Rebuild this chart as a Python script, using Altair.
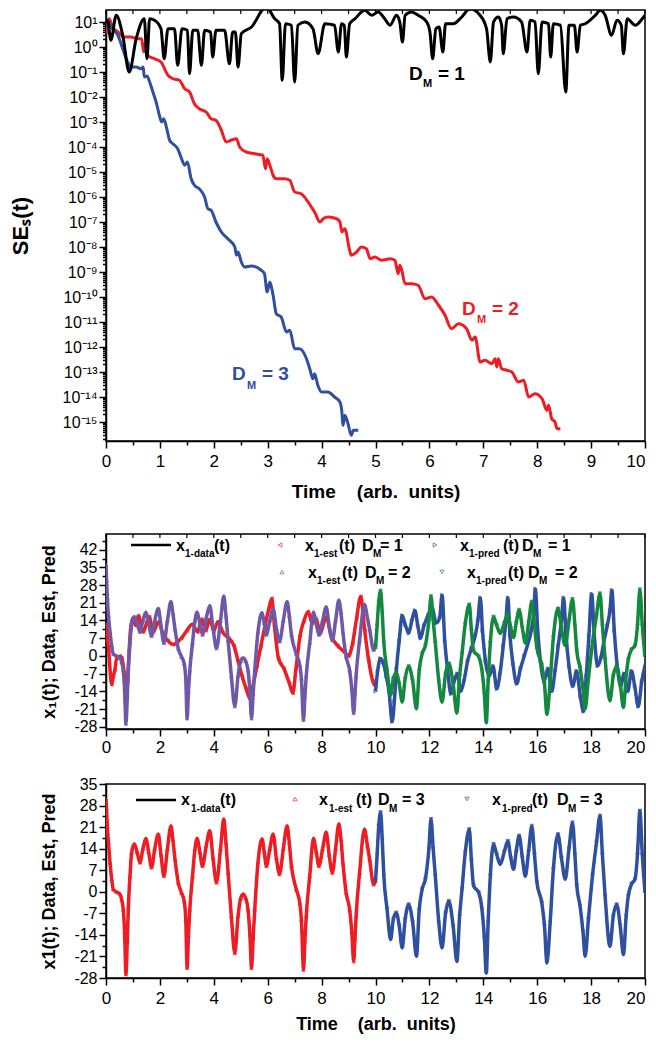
import altair as alt
import pandas as pd

FONT = "Liberation Sans"
BLACK = "#000000"
RED = "#EE1D23"
BLUE = "#2F4F9F"
PURPLE = "#6E58A8"
GREEN = "#13893F"

# ---------------- top panel: SE_s(t), (t, log10 SE) ----------------
se_dm1 = [(0.0, 1.0), (0.03, 1.07), (0.09, 0.27), (0.19, 1.27), (0.31, 0.47), (0.43, -1.0), (0.56, 0.33),
          (0.71, 1.13), (0.76, -0.47), (0.81, 1.13), (0.90, 1.07), (1.02, 0.73), (1.08, -0.47), (1.15, 0.73),
          (1.27, 0.73), (1.33, -0.73), (1.41, 0.73), (1.51, 0.67), (1.55, -1.07), (1.61, 0.67), (1.70, 0.67),
          (1.77, -0.73), (1.83, 0.67), (1.94, 0.6), (1.98, -0.4), (2.04, 0.67), (2.20, 0.67), (2.29, -0.67),
          (2.35, 0.6), (2.40, 0.6), (2.45, -0.8), (2.51, 0.53), (2.70, 0.8), (2.97, 1.6), (3.13, 1.13),
          (3.22, 0.93), (3.27, -1.33), (3.33, 0.93), (3.44, 0.87), (3.50, -1.4), (3.56, 0.87), (3.69, 1.0),
          (3.84, 0.73), (3.935, -0.27), (4.06, 0.93), (4.24, 0.87), (4.31, -0.2), (4.37, 0.93), (4.42, 0.87),
          (4.46, -0.4), (4.52, 0.93), (4.62, 1.13), (4.80, 1.47), (4.93, 1.27), (5.05, 1.4), (5.17, 1.13),
          (5.27, 0.87), (5.39, 1.27), (5.45, 1.0), (5.50, 0.2), (5.55, 1.27), (5.67, 1.4), (5.79, 1.27),
          (5.95, 1.0), (6.01, 0.6), (6.06, -0.47), (6.12, 0.73), (6.18, 0.8), (6.25, -0.2), (6.30, 0.93),
          (6.44, 0.93), (6.60, 1.2), (6.75, 1.53), (6.94, 1.27), (7.06, 0.73), (7.13, -0.6), (7.19, 1.0),
          (7.28, 1.2), (7.34, 0.87), (7.37, -0.27), (7.44, 1.13), (7.56, 1.2), (7.71, 1.0), (7.81, -0.2),
          (7.87, 1.07), (7.96, 1.0), (8.02, -1.07), (8.09, 1.0), (8.21, 0.93), (8.25, -0.4), (8.30, 0.93),
          (8.43, 0.87), (8.53, -1.8), (8.59, 0.87), (8.69, 0.87), (8.74, -0.2), (8.80, 0.87), (8.89, 0.93),
          (9.08, 1.27), (9.17, 1.47), (9.26, 1.27), (9.38, 0.47), (9.48, 1.07), (9.56, 0.87), (9.60, -0.27),
          (9.67, 1.13), (9.82, 0.87), (9.95, 1.13), (10.0, 1.27)]

se_dm2 = [(0.02, 0.53), (0.06, 1.13), (0.12, 0.8), (0.22, 0.6), (0.34, 0.4), (0.46, 0.4), (0.59, 0.33),
          (0.66, 0.33), (0.70, -0.2), (0.73, 0.13), (0.77, -0.33), (0.90, -0.47), (1.02, -0.6), (1.15, -1.13),
          (1.24, -1.27), (1.36, -1.33), (1.46, -1.67), (1.55, -1.8), (1.64, -2.27), (1.73, -2.47), (1.86, -2.6),
          (1.95, -2.87), (2.04, -2.93), (2.14, -3.33), (2.23, -3.8), (2.32, -3.73), (2.42, -3.67), (2.48, -4.0),
          (2.60, -4.2), (2.76, -4.27), (2.91, -4.33), (2.96, -4.87), (2.99, -4.47), (3.04, -4.73), (3.10, -5.13),
          (3.16, -5.27), (3.31, -5.27), (3.41, -5.33), (3.50, -5.8), (3.62, -5.87), (3.75, -6.2), (3.81, -6.4),
          (3.87, -6.6), (3.97, -7.0), (4.03, -6.87), (4.12, -6.8), (4.28, -6.87), (4.34, -7.0), (4.38, -7.4),
          (4.43, -7.27), (4.52, -8.13), (4.55, -8.33), (4.65, -8.2), (4.74, -8.0), (4.83, -8.07), (4.90, -8.47),
          (4.99, -8.4), (5.11, -8.53), (5.27, -8.47), (5.36, -8.53), (5.42, -9.07), (5.45, -8.73), (5.48, -8.87),
          (5.55, -9.47), (5.67, -9.47), (5.79, -9.53), (5.92, -10.07), (6.04, -10.0), (6.17, -10.33),
          (6.29, -10.73), (6.41, -11.27), (6.54, -11.07), (6.69, -11.27), (6.79, -11.73), (6.85, -11.6),
          (6.94, -12.6), (7.03, -12.53), (7.16, -12.67), (7.22, -12.47), (7.25, -12.8), (7.28, -12.47),
          (7.34, -12.87), (7.44, -12.93), (7.53, -13.0), (7.65, -13.4), (7.75, -13.33), (7.84, -14.0),
          (7.96, -13.87), (8.09, -14.07), (8.18, -14.53), (8.21, -14.33), (8.27, -14.87), (8.33, -15.0),
          (8.37, -15.27), (8.43, -15.27)]

se_dm3 = [(0.0, 0.87), (0.06, 0.93), (0.12, 0.73), (0.22, 0.47), (0.31, -0.07), (0.40, -0.6), (0.46, -0.8),
          (0.56, -0.8), (0.65, -0.87), (0.69, -0.8), (0.71, -1.2), (0.76, -1.16), (0.81, -1.4), (0.87, -1.8),
          (0.93, -2.2), (0.99, -2.73), (1.03, -3.0), (1.07, -2.87), (1.12, -3.2), (1.18, -3.73), (1.24, -3.87),
          (1.33, -4.07), (1.39, -4.4), (1.46, -4.73), (1.51, -4.6), (1.58, -5.27), (1.64, -5.53), (1.73, -5.67),
          (1.83, -6.0), (1.89, -6.47), (1.95, -6.53), (2.04, -7.0), (2.14, -7.4), (2.26, -7.67), (2.39, -8.0),
          (2.42, -8.33), (2.45, -8.2), (2.51, -8.6), (2.57, -8.8), (2.70, -8.76), (2.88, -8.93), (2.94, -9.07),
          (2.99, -9.8), (3.04, -9.4), (3.10, -9.93), (3.16, -10.67), (3.25, -10.8), (3.35, -11.4),
          (3.41, -11.33), (3.50, -12.07), (3.59, -12.07), (3.72, -12.47), (3.78, -12.87), (3.84, -13.27),
          (3.87, -13.07), (3.93, -13.53), (4.00, -13.8), (4.12, -13.8), (4.24, -14.0), (4.34, -14.2),
          (4.37, -14.47), (4.40, -15.13), (4.43, -14.73), (4.49, -15.07), (4.55, -15.53), (4.59, -15.33),
          (4.68, -15.33)]

top_ytick_labels = ["10⁻¹⁵", "10⁻¹⁴", "10⁻¹³", "10⁻¹²", "10⁻¹¹", "10⁻¹⁰", "10⁻⁹", "10⁻⁸", "10⁻⁷",
                    "10⁻⁶", "10⁻⁵", "10⁻⁴", "10⁻³", "10⁻²", "10⁻¹", "10⁰", "10¹"]
top_xtick_labels = ["0", "1", "2", "3", "4", "5", "6", "7", "8", "9", "10"]

# ---------------- x1 time series (t, x1) ----------------
x1_data = [(0.0, 21.0), (0.05, 18.5), (0.09, 16.0), (0.15, 9.5), (0.21, 4.1), (0.27, 0.8), (0.40, -0.1),
           (0.52, -0.8), (0.58, -2.5), (0.64, -5.7), (0.69, -13.0), (0.74, -26.8), (0.79, -16.0), (0.83, -5.0),
           (0.89, 5.1), (0.95, 12.7), (1.05, 15.5), (1.15, 13.0), (1.26, 9.5), (1.37, 14.0), (1.48, 17.3),
           (1.58, 13.0), (1.69, 7.9), (1.81, 14.0), (1.94, 18.7), (2.04, 12.0), (2.15, 5.1), (2.28, 14.0),
           (2.41, 21.4), (2.48, 17.0), (2.56, 10.6), (2.68, 3.0), (2.80, -0.3), (2.90, -3.0), (2.96, -9.0),
           (3.01, -24.7), (3.06, -14.0), (3.11, -5.7), (3.21, 5.1), (3.30, 13.8), (3.38, 17.3), (3.48, 13.0),
           (3.58, 8.4), (3.72, 15.0), (3.85, 19.8), (3.97, 11.0), (4.10, 3.0), (4.25, 14.0), (4.37, 23.6),
           (4.45, 16.0), (4.53, 6.2), (4.65, -7.9), (4.78, -19.9), (4.90, -7.9), (5.00, -2.0), (5.09, -0.8),
           (5.18, -2.0), (5.27, -5.7), (5.34, -14.0), (5.40, -24.7), (5.46, -15.0), (5.52, -5.7), (5.64, 9.5),
           (5.79, 17.1), (5.87, 13.0), (5.95, 8.4), (6.08, 14.0), (6.20, 18.7), (6.32, 11.0), (6.44, 5.7),
           (6.58, 14.0), (6.72, 21.4), (6.80, 16.0), (6.88, 8.4), (7.06, 0.8), (7.19, -3.6), (7.25, -9.0),
           (7.33, -25.3), (7.38, -16.0), (7.43, -7.9), (7.56, 5.1), (7.70, 17.3), (7.80, 13.0), (7.90, 8.4),
           (8.04, 14.0), (8.17, 19.3), (8.28, 12.0), (8.40, 6.2), (8.52, 14.0), (8.64, 22.0), (8.72, 17.0),
           (8.79, 9.5), (8.91, -0.3), (9.04, -5.7), (9.12, -13.0), (9.19, -22.6), (9.24, -15.0), (9.28, -7.9),
           (9.41, 6.2), (9.59, 20.3), (9.70, 15.0), (9.78, 10.6), (9.93, 2.4), (10.0, 3.5), (10.06, 12.0),
           (10.12, 21.4), (10.19, 25.8), (10.25, 17.0), (10.31, 5.1), (10.43, -5.7), (10.56, -15.5),
           (10.66, -9.0), (10.77, -6.8), (10.88, -11.0), (10.99, -18.2), (11.10, -9.0), (11.23, -4.1),
           (11.38, -10.0), (11.52, -20.9), (11.62, -6.0), (11.73, 0.8), (11.85, 4.1), (11.98, 13.8),
           (12.06, 23.6), (12.14, 14.0), (12.22, 5.1), (12.35, -10.1), (12.47, -18.2), (12.60, -7.0),
           (12.72, -3.0), (12.88, -11.0), (13.02, -22.6), (13.12, -8.0), (13.21, 0.8), (13.33, 12.7),
           (13.48, 20.3), (13.56, 10.0), (13.64, 1.9), (13.83, -0.3), (13.95, -5.7), (14.04, -15.0),
           (14.11, -26.4), (14.18, -10.0), (14.26, 5.1), (14.38, 15.5), (14.50, 12.0), (14.63, 8.9),
           (14.78, 13.0), (14.91, 16.5), (15.02, 11.0), (15.12, 7.3), (15.22, 13.0), (15.33, 18.2),
           (15.45, 11.0), (15.56, 5.1), (15.68, 13.0), (15.80, 21.4), (15.90, 12.0), (15.99, 3.0),
           (16.17, -3.6), (16.27, -11.0), (16.36, -23.1), (16.48, -10.1), (16.60, 7.3), (16.77, 18.7),
           (16.90, 11.0), (17.04, 4.1), (17.18, 14.0), (17.31, 22.5), (17.40, 12.0), (17.47, 1.9),
           (17.59, -4.6), (17.70, -13.0), (17.78, -20.9), (17.90, -9.0), (18.05, 5.1), (18.20, 16.0),
           (18.33, 24.7), (18.42, 12.0), (18.52, -1.4), (18.70, -17.7), (18.82, -8.0), (18.95, -4.1),
           (19.08, -11.0), (19.20, -20.4), (19.30, -8.0), (19.38, -1.4), (19.50, 2.5), (19.63, 4.1),
           (19.72, 12.0), (19.81, 26.3), (19.90, 12.0), (20.0, -0.3)]

# estimation start transients (before they lock onto the data)
est_dm2_start = [(0.0, 36.0), (0.02, 30.0), (0.05, 23.0)]
est_dm3_start = [(0.0, 30.0), (0.02, 27.0), (0.05, 21.0)]

est_dm1 = [(0.0, 13.0), (0.1, 2.0), (0.21, -11.3), (0.27, -8.0), (0.33, -5.4), (0.40, -0.8), (0.52, -0.1),
           (0.58, -0.8), (0.67, -6.7), (0.74, -20.0), (0.80, -10.0), (0.86, 2.0), (0.91, 10.4), (1.0, 15.0),
           (1.1, 12.0), (1.2, 15.9), (1.38, 9.5), (1.6, 15.5), (1.75, 9.5), (1.95, 13.5), (2.1, 9.0),
           (2.3, 6.0), (2.5, 4.5), (2.65, 5.5), (2.8, 7.0), (3.0, 10.0), (3.2, 12.5), (3.4, 9.5), (3.55, 14.5),
           (3.7, 10.0), (3.85, 14.5), (4.0, 10.0), (4.15, 13.5), (4.35, 9.0), (4.55, 7.0), (4.75, 4.0),
           (4.9, -2.0), (5.05, -8.0), (5.2, -13.0), (5.35, -17.0), (5.45, -12.0), (5.6, -4.0), (5.75, 4.0),
           (5.9, 12.0), (6.05, 19.0), (6.15, 22.7), (6.25, 12.0), (6.4, -1.0), (6.6, -5.0), (6.8, -10.7),
           (6.93, -14.7), (7.05, -5.0), (7.2, 8.0), (7.35, 14.0), (7.5, 17.5), (7.65, 12.9), (7.8, 14.6),
           (7.95, 9.0), (8.17, 15.4), (8.35, 8.0), (8.6, 4.0), (8.8, 2.0), (9.0, 0.0), (9.15, 5.0),
           (9.3, 15.0), (9.45, 23.5), (9.6, 10.0), (9.75, -2.0), (9.9, -10.0), (10.0, -12.0)]

pred_dm1 = [(10.0, -14.0), (10.08, -6.0), (10.18, -1.0), (10.28, -2.5), (10.4, -8.0), (10.5, -14.0),
            (10.62, -26.0), (10.7, -18.0), (10.78, -5.0), (10.88, 6.0), (10.99, 16.0), (11.1, 12.5),
            (11.23, 9.0), (11.35, 14.0), (11.46, 18.0), (11.57, 12.0), (11.67, 7.0), (11.8, 12.0),
            (11.95, 16.0), (12.1, 19.0), (12.25, 13.0), (12.38, 15.0), (12.47, 24.0), (12.57, 6.0),
            (12.68, -6.0), (12.8, -15.0), (12.92, -10.0), (13.04, -7.0), (13.16, -14.0), (13.28, -10.0),
            (13.42, -2.0), (13.56, 3.0), (13.7, 8.0), (13.8, 14.0), (13.89, 23.0), (13.97, 10.0),
            (14.08, -2.0), (14.22, -8.0), (14.36, -4.0), (14.5, -13.0), (14.62, -7.0), (14.74, 4.0),
            (14.84, 14.0), (14.91, 23.0), (14.99, 8.0), (15.1, -3.0), (15.24, -11.0), (15.38, -5.0),
            (15.52, 0.0), (15.66, 5.0), (15.78, 10.0), (15.87, 17.0), (15.93, 26.5), (16.02, 10.0),
            (16.12, -2.0), (16.26, -10.0), (16.4, -5.0), (16.54, -14.0), (16.66, -6.0), (16.78, 4.0),
            (16.9, 14.0), (16.98, 23.0), (17.07, 8.0), (17.18, -4.0), (17.32, -12.0), (17.46, -6.0),
            (17.6, -16.0), (17.72, -22.0), (17.82, -8.0), (17.92, 8.0), (18.02, 24.5), (18.12, 8.0),
            (18.24, -4.0), (18.36, -1.0), (18.48, 6.0), (18.6, 12.0), (18.7, 18.0), (18.77, 26.0),
            (18.86, 10.0), (18.97, -4.0), (19.1, -12.0), (19.22, -7.0), (19.36, -14.0), (19.5, -6.0),
            (19.62, -12.0), (19.75, -20.0), (19.88, -10.0), (20.0, -4.0)]

x_tick_labels_20 = ["0", "2", "4", "6", "8", "10", "12", "14", "16", "18", "20"]
mid_ytick_labels = ["-28", "-21", "-14", "-7", "0", "7", "14", "21", "28", "35", "42"]
bot_ytick_labels = ["-28", "-21", "-14", "-7", "0", "7", "14", "21", "28", "35"]


# ---------------- helpers ----------------
def frame(pairs, ycol="v"):
    return pd.DataFrame({"t": [p[0] for p in pairs], ycol: [p[1] for p in pairs]})


def js_list(items):
    return "[" + ",".join("'" + s + "'" for s in items) + "]"


anno_df = pd.DataFrame({"k": [0]})


def txt(text, x, y, size, color=BLACK):
    return alt.Chart(anno_df).mark_text(
        text=text, align="left", baseline="alphabetic", font=FONT, fontSize=size,
        fontWeight="bold", color=color
    ).encode(x=alt.value(x), y=alt.value(y))


def sym(shape, color, x, y):
    return alt.Chart(anno_df).mark_point(
        shape=shape, filled=False, color=color, size=18, strokeWidth=1
    ).encode(x=alt.value(x), y=alt.value(y))


W = 539
AX = dict(grid=False, domainColor=BLACK, tickColor=BLACK, labelColor=BLACK, titleColor=BLACK,
          labelFont=FONT, titleFont=FONT, domainWidth=1.5, tickWidth=1.5, labelOverlap=False)

# ---------------- top panel ----------------
top_lo, top_hi = 10 ** -15.76, 10 ** 1.48
ytop_vals = []
for e in range(-16, 2):
    for k in range(1, 10):
        v = float(f"{k}e{e}")
        if top_lo <= v <= 10.0:
            ytop_vals.append(v)
is_dec = "abs(datum.value / pow(10, round(log(datum.value) / LN10)) - 1) < 1e-6"
Y_top = alt.Y("se:Q", scale=alt.Scale(type="log", domain=[top_lo, top_hi], nice=False),
              axis=alt.Axis(values=ytop_vals,
                            labelExpr=f"({is_dec}) ? {js_list(top_ytick_labels)}[round(log(datum.value) / LN10) + 15] : ''",
                            tickSize={"condition": {"test": is_dec, "value": 7}, "value": 3.5},
                            labelFontSize=16, labelPadding=2, title="SEₛ(t)", titleFontSize=22,
                            titleFontWeight="bold", titlePadding=30, **AX))
xtop_vals = [i * 0.5 for i in range(21)]
X_top = alt.X("t:Q", scale=alt.Scale(domain=[0, 10], nice=False, zero=False),
              axis=alt.Axis(values=xtop_vals,
                            labelExpr=f"datum.value % 1 == 0 ? {js_list(top_xtick_labels)}[datum.value] : ''",
                            labelAlign={"condition": {"test": "datum.value == 10", "value": "right"},
                                        "value": "center"},
                            tickSize={"condition": {"test": "datum.value % 1 == 0", "value": 7}, "value": 4},
                            labelFontSize=17, labelPadding=5, labelFlush=False,
                            title="Time\u00a0\u00a0\u00a0\u00a0(arb.\u00a0\u00a0units)", titleFontSize=19,
                            titleFontWeight="bold", titlePadding=13, **AX))

df1 = frame(se_dm1, "lg")
df2 = frame(se_dm2, "lg")
df3 = frame(se_dm3, "lg")
for d in (df1, df2, df3):
    d["se"] = 10.0 ** d["lg"]


def se_line(df, color):
    return alt.Chart(df).mark_line(color=color, strokeWidth=3, clip=True, interpolate="monotone").encode(
        x=X_top, y=Y_top)


def top_ticks(vals, X):
    # mirrored tick marks along the upper frame, placed through the x scale
    return alt.Chart(pd.DataFrame({"t": vals})).mark_rule(color=BLACK, strokeWidth=1.2).encode(
        x=X, y=alt.value(0), y2=alt.value(4))


top = alt.layer(
    se_line(df2, RED), se_line(df3, BLUE), se_line(df1, BLACK), top_ticks(xtop_vals, X_top),
    txt("D", 303, 70, 19), txt("M", 317, 77, 11), txt("= 1", 332, 70, 19),
    txt("D", 356, 305, 19, RED), txt("M", 371, 313, 11, RED), txt("= 2", 386, 305, 19, RED),
    txt("D", 126, 370, 19, BLUE), txt("M", 141, 379, 11, BLUE), txt("= 3", 156, 370, 19, BLUE),
    txt(" ", 0, 502, 2),  # spacer: keeps the gap below the time-axis title
).properties(width=W, height=431)

# ---------------- middle / bottom panels ----------------
x20_vals = list(range(21))


def x_axis20(show_title, label_pad, title_pad):
    kw = dict(values=x20_vals,
              labelExpr=f"datum.value % 2 == 0 ? {js_list(x_tick_labels_20)}[datum.value / 2] : ''",
              labelAlign={"condition": {"test": "datum.value == 20", "value": "right"}, "value": "center"},
              tickSize={"condition": {"test": "datum.value % 2 == 0", "value": 7}, "value": 4},
              labelFontSize=17, labelPadding=label_pad, labelFlush=False, **AX)
    if show_title:
        kw.update(title="Time\u00a0\u00a0\u00a0\u00a0(arb.\u00a0\u00a0units)", titleFontSize=18,
                  titleFontWeight="bold", titlePadding=title_pad)
    else:
        kw.update(title=None)
    return alt.X("t:Q", scale=alt.Scale(domain=[0, 20], nice=False, zero=False), axis=alt.Axis(**kw))


def y_axis(lo, hi, tick_max, labels, title):
    vals = []
    v = -28.0
    while v <= tick_max + 1e-9:
        vals.append(v)
        v += 3.5
    return alt.Y("v:Q", scale=alt.Scale(domain=[lo, hi], nice=False, zero=False),
                 axis=alt.Axis(values=vals,
                               labelExpr=f"datum.value % 7 == 0 ? {js_list(labels)}[(datum.value + 28) / 7] : ''",
                               tickSize={"condition": {"test": "datum.value % 7 == 0", "value": 7}, "value": 4},
                               labelFontSize=16, labelPadding=2, title=title, titleFontSize=18,
                               titleFontWeight="bold", titlePadding=15, **AX))


def series(df, color, shape, X, Y, width=3.5):
    ln = alt.Chart(df).mark_line(color=color, strokeWidth=width, clip=True, interpolate="monotone").encode(
        x=X, y=Y)
    pt = alt.Chart(df).mark_point(shape=shape, filled=False, color=color, size=14, strokeWidth=0.9,
                                  clip=True).encode(x=X, y=Y)
    return [ln, pt]


data_df = frame(x1_data)
first_half = [p for p in x1_data if 0.09 <= p[0] <= 10.0]
second_half = [p for p in x1_data if p[0] >= 10.0]

# middle
X_mid = x_axis20(False, 3, 0)
Y_mid = y_axis(-28.9, 48.2, 45.5, mid_ytick_labels, "x₁(t);  Data, Est, Pred")
mid_layers = [alt.Chart(data_df).mark_line(color=BLACK, strokeWidth=2, clip=True,
                                           interpolate="monotone").encode(x=X_mid, y=Y_mid)]
mid_layers += series(frame(est_dm1), RED, "triangle-left", X_mid, Y_mid)
mid_layers += series(frame(pred_dm1), BLUE, "triangle-right", X_mid, Y_mid)
mid_layers += series(frame(est_dm2_start + first_half), PURPLE, "triangle-up", X_mid, Y_mid)
mid_layers += series(frame(second_half), GREEN, "triangle-down", X_mid, Y_mid)
mid_layers += [
    top_ticks(x20_vals, X_mid),
    alt.Chart(anno_df).mark_rule(color=BLACK, strokeWidth=2.5).encode(
        x=alt.value(25), x2=alt.value(65), y=alt.value(11)),
    txt("x", 70, 17, 16), txt("1-data", 79, 23, 10), txt("(t)", 108, 17, 16),
    sym("triangle-left", RED, 174, 11),
    txt("x", 199, 17, 16), txt("1-est", 208, 23, 10), txt("(t)", 233, 17, 16),
    txt("D", 256, 17, 16), txt("M", 267, 23, 10), txt("= 1", 274, 17, 16),
    sym("triangle-right", BLUE, 329, 11),
    txt("x", 354, 17, 16), txt("1-pred", 363, 23, 10), txt("(t)", 397, 17, 16),
    txt("D", 416, 17, 16), txt("M", 427, 23, 10), txt("= 1", 442, 17, 16),
    sym("triangle-up", PURPLE, 176, 38),
    txt("x", 202, 44, 16), txt("1-est", 211, 50, 10), txt("(t)", 236, 44, 16),
    txt("D", 259, 44, 16), txt("M", 270, 50, 10), txt("= 2", 282, 44, 16),
    sym("triangle-down", GREEN, 336, 38),
    txt("x", 361, 44, 16), txt("1-pred", 370, 50, 10), txt("(t)", 402, 44, 16),
    txt("D", 422, 44, 16), txt("M", 433, 50, 10), txt("= 2", 449, 44, 16),
]
mid = alt.layer(*mid_layers).properties(width=W, height=195)

# bottom
X_bot = x_axis20(True, 5, 9)
Y_bot = y_axis(-28, 35, 35, bot_ytick_labels, "x1(t);  Data, Est, Pred")
bot_layers = [alt.Chart(data_df).mark_line(color=BLACK, strokeWidth=2, clip=True,
                                           interpolate="monotone").encode(x=X_bot, y=Y_bot)]
bot_layers += series(frame(est_dm3_start + first_half), RED, "triangle-up", X_bot, Y_bot)
bot_layers += series(frame(second_half), BLUE, "triangle-down", X_bot, Y_bot)
bot_layers += [
    alt.Chart(anno_df).mark_rule(color=BLACK, strokeWidth=2.5).encode(
        x=alt.value(30), x2=alt.value(70), y=alt.value(16)),
    txt("x", 75, 21, 16), txt("1-data", 85, 28, 10), txt("(t)", 114, 21, 16),
    sym("triangle-up", RED, 189, 15),
    txt("x", 213, 21, 16), txt("1-est", 223, 28, 10), txt("(t)", 250, 21, 16),
    txt("D", 272, 21, 16), txt("M", 283, 28, 10), txt("= 3", 296, 21, 16),
    sym("triangle-down", BLUE, 361, 15),
    txt("x", 386, 21, 16), txt("1-pred", 396, 28, 10), txt("(t)", 426, 21, 16),
    txt("D", 451, 21, 16), txt("M", 462, 28, 10), txt("= 3", 474, 21, 16),
]
bot = alt.layer(*bot_layers).properties(width=W, height=194)

chart = alt.vconcat(top, mid, bot, spacing=19).properties(
    padding={"left": 0, "top": 0, "right": 0, "bottom": 0}
).configure_view(stroke=BLACK, strokeWidth=1.5)

chart.save("out.html", embed_options={"renderer": "svg", "actions": False})
